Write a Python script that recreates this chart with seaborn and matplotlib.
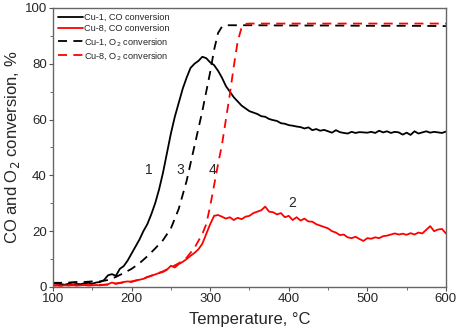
import numpy as np
import pandas as pd
import seaborn as sns
import matplotlib.pyplot as plt

# temperatures for the CO curves (step 5 degC)
temp_co = list(range(100, 605, 5))

# Cu-1, CO conversion (black solid)
cu1_co = [1.4, 1.2, 1.0, 0.8, 1.2, 0.9, 1.1, 1.0, 1.3, 1.5,
          1.2, 1.6, 1.8, 2.5, 4.2, 4.6, 4.0, 6.5, 7.5, 9.5,
          12.0, 14.5, 17.0, 20.0, 22.5, 26.0, 30.0, 35.0, 41.0, 48.0,
          55.0, 61.0, 66.0, 71.0, 75.0, 78.5, 80.0, 81.0, 82.5, 82.0,
          80.5, 79.5, 77.5, 75.0, 72.0, 70.0, 68.0, 66.5, 65.0, 64.0,
          63.0, 62.5, 62.0, 61.2, 61.0, 60.2, 59.8, 59.5, 58.7, 58.5,
          58.0, 57.8, 57.5, 57.3, 56.8, 57.2, 56.2, 56.6, 56.0, 56.3,
          55.8, 55.3, 56.2, 55.5, 55.2, 55.0, 55.6, 55.2, 55.5, 55.4,
          55.3, 55.6, 55.2, 56.0, 55.4, 55.8, 55.2, 55.6, 55.4, 54.6,
          55.3, 54.5, 55.8, 55.0, 55.4, 55.8, 55.3, 55.6, 55.4, 55.2,
          55.7]

# Cu-8, CO conversion (red solid)
cu8_co = [0.5, 0.7, 0.4, 0.6, 0.5, 0.8, 0.5, 0.6, 0.7, 0.5,
          0.6, 0.7, 0.6, 0.8, 1.0, 1.6, 1.2, 1.5, 1.8, 2.0,
          1.8, 2.3, 2.6, 2.9, 3.6, 4.0, 4.5, 5.0, 5.4, 6.2,
          7.6, 7.0, 8.2, 9.0, 10.0, 11.2, 12.2, 13.5, 15.5, 19.0,
          22.5, 25.5, 25.8, 25.2, 24.5, 25.0, 24.0, 24.8, 24.3, 25.2,
          25.5, 26.5, 27.0, 27.5, 28.8, 27.0, 26.8, 26.0, 26.5, 25.0,
          25.5, 24.0, 25.0, 23.8, 24.5, 23.5, 23.4, 22.5, 22.0, 21.5,
          21.0, 20.0, 19.5, 18.6, 18.8, 17.8, 17.5, 18.0, 17.2, 16.5,
          17.5, 17.3, 17.8, 17.5, 18.2, 18.4, 18.8, 19.2, 18.8, 19.1,
          18.7, 19.3, 18.8, 19.5, 19.2, 20.5, 21.8, 20.0, 20.6, 20.8,
          19.2]

# temperatures for the O2 curves
temp_o2 = [100, 110, 120, 130, 140, 150, 160, 170, 180, 190, 200, 210, 220,
           230, 240, 250, 260, 270, 280, 290, 295, 300, 305, 310, 315, 320,
           325, 330, 335, 340, 345, 350, 400, 450, 500, 550, 600]

# Cu-1, O2 conversion (black dashed)
cu1_o2 = [1.5, 1.5, 1.6, 1.8, 1.8, 2.0, 2.0, 2.5, 3.6, 5.0, 6.5, 8.5, 11.0,
          13.8, 16.8, 21.0, 28.0, 38.0, 50.5, 63.0, 70.0, 77.0, 85.0, 91.0,
          93.3, 93.8, 93.8, 93.8, 93.8, 93.8, 93.8, 93.8, 93.7, 93.7, 93.6,
          93.6, 93.5]

# Cu-8, O2 conversion (red dashed)
cu8_o2 = [0.5, 0.5, 0.6, 0.6, 0.7, 0.7, 0.8, 0.8, 1.2, 1.6, 2.0, 2.6, 3.5,
          4.6, 5.6, 7.0, 8.5, 10.5, 14.0, 19.0, 22.5, 29.0, 36.5, 44.0,
          51.0, 60.0, 69.0, 79.0, 88.0, 93.0, 94.3, 94.4, 94.4, 94.4, 94.4,
          94.4, 94.4]

labels = ['Cu-1, CO conversion', 'Cu-8, CO conversion',
          'Cu-1, O$_2$ conversion', 'Cu-8, O$_2$ conversion']

curve_numbers = ['1', '2', '3', '4']
number_x = [222, 405, 262, 303]
number_y = [42, 30, 42, 42]

df_co = pd.concat([
    pd.DataFrame({'T': temp_co, 'conv': cu1_co, 'series': labels[0]}),
    pd.DataFrame({'T': temp_co, 'conv': cu8_co, 'series': labels[1]}),
])
df_o2 = pd.concat([
    pd.DataFrame({'T': temp_o2, 'conv': cu1_o2, 'series': labels[2]}),
    pd.DataFrame({'T': temp_o2, 'conv': cu8_o2, 'series': labels[3]}),
])

sns.set_style('ticks')
plt.rcParams['font.family'] = ['Liberation Sans', 'DejaVu Sans']

fig = plt.figure(figsize=(4.59, 3.35), dpi=100)
ax = fig.add_axes([0.1155, 0.1433, 0.856, 0.833])

sns.lineplot(data=df_co, x='T', y='conv', hue='series',
             palette=['black', 'red'], linewidth=1.3, ax=ax, legend=False)
sns.lineplot(data=df_o2, x='T', y='conv', hue='series',
             palette=['black', 'red'], linewidth=1.3, ax=ax, legend=False)
for ln in ax.lines[2:4]:
    ln.set_dashes((5, 3.5))

# legend
handles = [plt.Line2D([], [], color=c, lw=1.3, ls=s)
           for c, s in zip(['black', 'red', 'black', 'red'],
                           ['-', '-', (0, (5, 3.5)), (0, (5, 3.5))])]
ax.legend(handles, labels, loc='upper left', frameon=False, fontsize=6.6,
          handlelength=2.7, handletextpad=0.1, labelspacing=0.25,
          borderaxespad=0.15, bbox_to_anchor=(0.0, 1.0))

for n, x, y in zip(curve_numbers, number_x, number_y):
    ax.text(x, y, n, fontsize=10, ha='center', va='center')

ax.set_xlim(100, 600)
ax.set_ylim(0, 100)
ax.set_xticks([100, 200, 300, 400, 500, 600])
ax.set_yticks([0, 20, 40, 60, 80, 100])
ax.set_xticks(np.arange(150, 600, 100), minor=True)
ax.set_yticks(np.arange(10, 100, 20), minor=True)
ax.tick_params(which='major', labelsize=9.5, length=3, width=0.8,
               color='#555555', direction='out', pad=1.5)
ax.tick_params(which='minor', length=2, width=0.6, color='#555555',
               direction='out')
for sp in ax.spines.values():
    sp.set_visible(True)
    sp.set_color('#666666')
    sp.set_linewidth(1.0)

ax.set_xlabel('Temperature, °C', fontsize=12, labelpad=5)
ax.set_ylabel('CO and O$_2$ conversion, %', fontsize=12, labelpad=2)

fig.savefig('out.png', dpi=100)
